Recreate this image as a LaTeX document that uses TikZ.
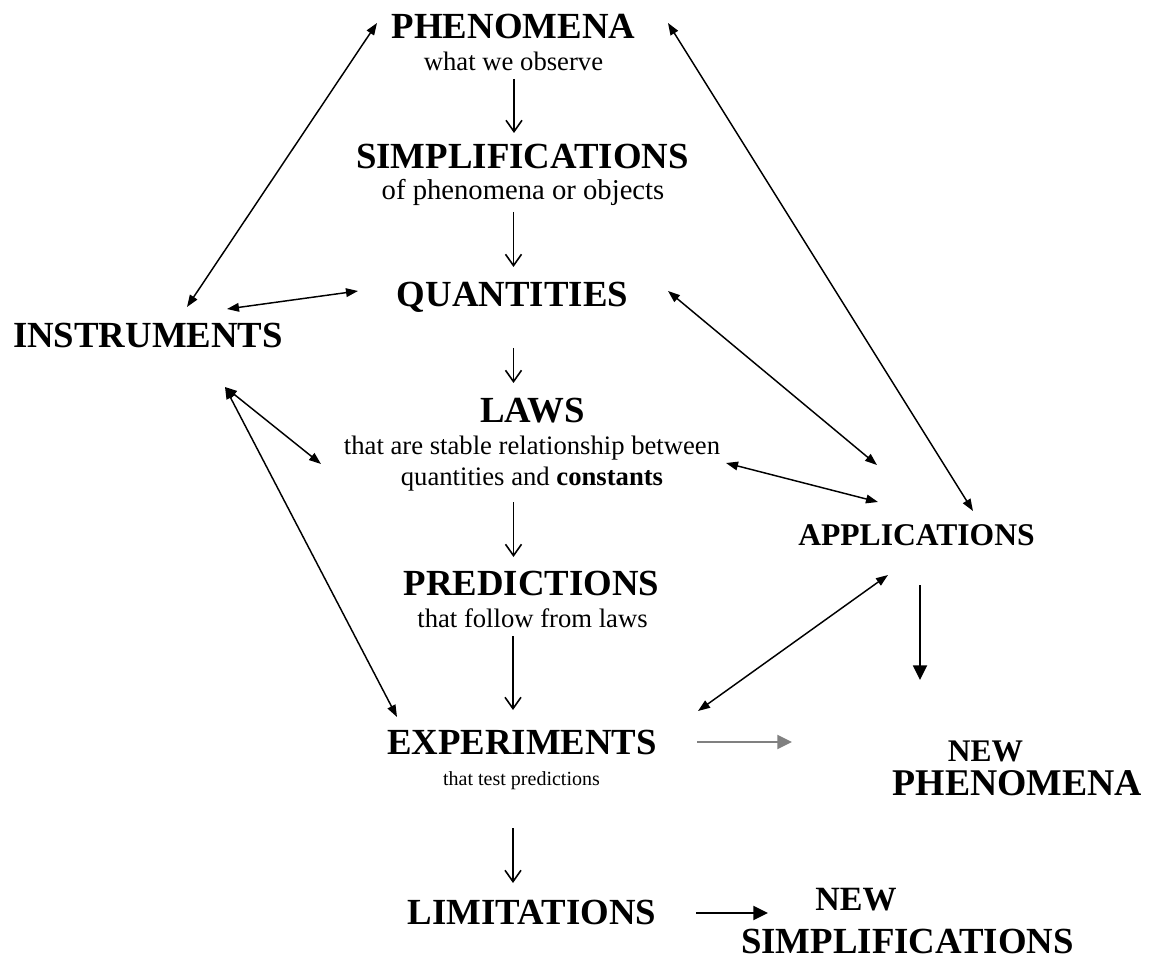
\documentclass[tikz,border=0pt]{standalone}
\usepackage{fontspec}
\setmainfont{Liberation Serif}
\usetikzlibrary{arrows.meta,calc}

\newcommand{\fsz}[1]{\fontsize{#1}{#1}\selectfont}

\begin{document}
\begin{tikzpicture}[x=0.75pt,y=-0.75pt,
  every node/.style={inner sep=0pt,anchor=base},
  big/.style={font=\fsz{27.6pt}\bfseries},
  sub/.style={font=\fsz{20pt}},
  both/.style={{Triangle[length=9pt,width=6.5pt]}-{Triangle[length=9pt,width=6.5pt]},line width=1.1pt},
  down/.style={-{Straight Barb[length=8.5pt,width=12pt]},line width=1.2pt},
  fat/.style={-{Triangle[length=11pt,width=10.5pt]},line width=1.4pt}]
\useasboundingbox (0,0) rectangle (1154,959);

% middle column
\node[big] (phen) at (513.5,39) {PHENOMENA};
\node[sub] (phensub) at (513.5,71) {what we observe};
\node[big] (simp) at (522.5,169) {SIMPLIFICATIONS};
\node[sub,font=\fsz{21.5pt}] (simpsub) at (523,200) {of phenomena or objects};
\node[big] (quant) at (512.5,307) {QUANTITIES};
\node[big] (laws) at (532.5,423) {LAWS};
\node[sub] (lawsa) at (532,455) {that are stable relationship between};
\node[sub] (lawsb) at (532,485) {quantities and \textbf{constants}};
\node[big] (pred) at (531.5,595) {PREDICTIONS};
\node[sub] (predsub) at (532.5,627) {that follow from laws};
\node[big] (exp) at (522,754) {EXPERIMENTS};
\node[sub,font=\fsz{15pt}] (expsub) at (521.5,785) {that test predictions};
\node[big] (lim) at (532,924) {LIMITATIONS};

% sides
\node[big] (instr) at (148,348) {INSTRUMENTS};
\node[big,font=\fsz{23.7pt}\bfseries] (appl) at (916.5,545) {APPLICATIONS};
\node[big,font=\fsz{23.6pt}\bfseries] (newa) at (985.5,761) {NEW};
\node[big,font=\fsz{28.3pt}\bfseries] (newphen) at (1017.5,795) {PHENOMENA};
\node[big,font=\fsz{25.5pt}\bfseries] (news) at (856,910) {NEW};
\node[big] (newsimp) at (907.5,953) {SIMPLIFICATIONS};

% down the middle
\draw[down] ($(phensub.base)+(0.5,8)$) -- ($(simp.base)+(-8.5,-36)$);
\draw[down] ($(simpsub.base)+(-9.5,12)$) -- ($(quant.base)+(1,-40)$);
\draw[down] ($(quant.base)+(1,41)$) -- ($(laws.base)+(-19,-40)$);
\draw[down] ($(lawsb.base)+(-18.5,17)$) -- ($(pred.base)+(-18,-38)$);
\draw[down] ($(predsub.base)+(-19.5,9)$) -- ($(exp.base)+(-9,-44)$);
\draw[down] ($(expsub.base)+(-8.5,43)$) -- ($(lim.base)+(-19,-41)$);

% two-way links
\draw[both] ($(instr.base)+(39,-41)$) -- ($(phen.base)+(-136.5,-16)$);
\draw[both] ($(instr.base)+(79,-39)$) -- ($(quant.base)+(-154.5,-16)$);
\draw[both] ($(phen.base)+(154.5,-16)$) -- ($(appl.base)+(56.5,-34)$);
\draw[both] ($(quant.base)+(155.5,-16)$) -- ($(appl.base)+(-39.5,-80)$);
\draw[both] ($(lawsa.base)+(194,8)$) -- ($(appl.base)+(-38.5,-43)$);
\draw[both] ($(instr.base)+(77,39)$) -- ($(lawsa.base)+(-211,9)$);
\draw[both] ($(instr.base)+(77,39)$) -- ($(exp.base)+(-125,-37)$);
\draw[both] ($(appl.base)+(-28.5,30)$) -- ($(exp.base)+(176,-43)$);

% to the new ones
\draw[fat] ($(appl.base)+(3.5,40)$) -- ($(newa.base)+(-65.5,-81)$);
\draw[fat,draw=gray] ($(exp.base)+(175,-12)$) -- ($(newphen.base)+(-225.5,-53)$);
\draw[fat] ($(lim.base)+(164,-11)$) -- ($(news.base)+(-88,3)$);
\end{tikzpicture}
\end{document}
